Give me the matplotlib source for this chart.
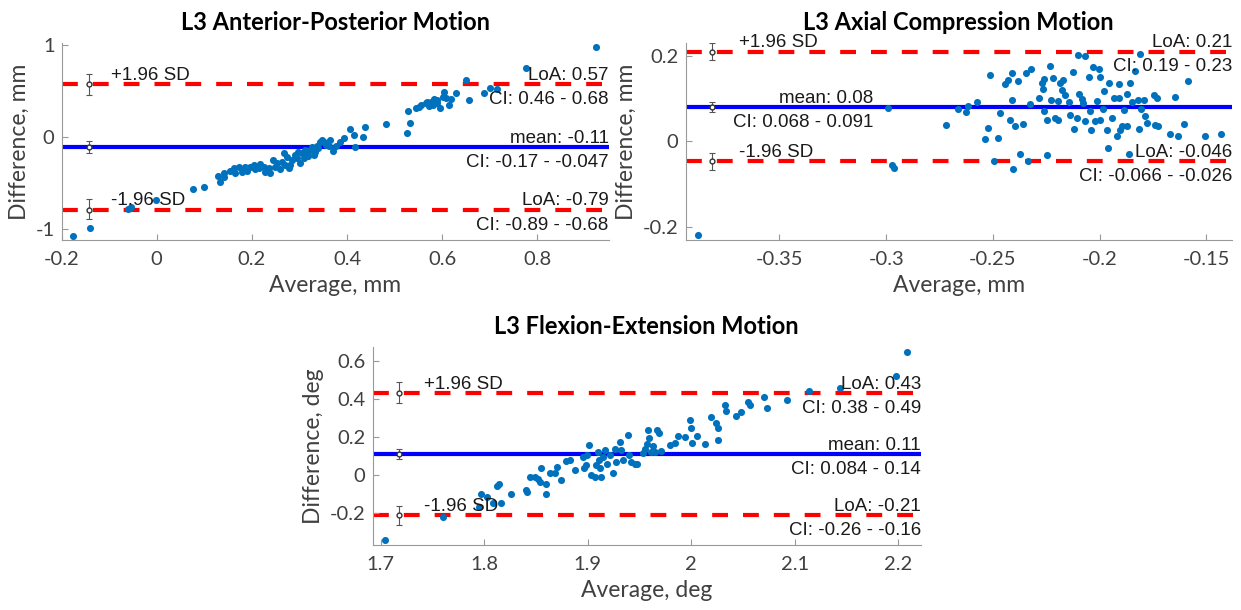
import matplotlib
matplotlib.use("Agg")
import matplotlib.pyplot as plt
import matplotlib.transforms as mtransforms

plt.rcParams['font.family'] = ['Lato', 'DejaVu Sans']
plt.rcParams['axes.unicode_minus'] = False

# --- L3 anterior-posterior (mm) ---
ap_avg = [-0.175, -0.141, -0.061, -0.054, -0.001, 0.076, 0.099, 0.129, 0.134, 0.141,
          0.155, 0.162, 0.172, 0.179, 0.190, 0.204, 0.214, 0.225, 0.235, 0.239,
          0.244, 0.253, 0.260, 0.267, 0.270, 0.277, 0.284, 0.291, 0.298, 0.302,
          0.309, 0.316, 0.323, 0.330, 0.337, 0.343, 0.348, 0.355, 0.364, 0.371,
          0.376, 0.385, 0.393, 0.407, 0.414, 0.416, 0.434, 0.438, 0.481, 0.527,
          0.532, 0.529, 0.545, 0.552, 0.566, 0.573, 0.576, 0.583, 0.590, 0.596,
          0.601, 0.604, 0.614, 0.618, 0.628, 0.650, 0.656, 0.687, 0.701, 0.716,
          0.777, 0.923, 0.141, 0.165, 0.197, 0.218, 0.228, 0.249, 0.263, 0.273,
          0.281, 0.295, 0.305, 0.312, 0.319, 0.326, 0.333, 0.340, 0.351, 0.362,
          0.186, 0.207, 0.556, 0.569, 0.580, 0.589, 0.607]
ap_diff = [-1.076, -0.993, -0.783, -0.757, -0.685, -0.569, -0.540, -0.424, -0.486, -0.395,
           -0.366, -0.341, -0.323, -0.377, -0.366, -0.305, -0.341, -0.323, -0.341, -0.388,
           -0.250, -0.279, -0.352, -0.178, -0.305, -0.341, -0.250, -0.196, -0.160, -0.279,
           -0.232, -0.178, -0.142, -0.196, -0.098, -0.051, -0.033, -0.087, -0.033, -0.152,
           -0.098, -0.051, -0.015, 0.083, 0.022, -0.105, 0.000, 0.112, 0.141, 0.040,
           0.155, 0.282, 0.311, 0.329, 0.373, 0.337, 0.384, 0.409, 0.366, 0.311,
           0.438, 0.492, 0.348, 0.409, 0.474, 0.619, 0.402, 0.474, 0.529, 0.518,
           0.745, 0.975, -0.432, -0.388, -0.323, -0.294, -0.377, -0.323, -0.268, -0.214,
           -0.305, -0.232, -0.178, -0.142, -0.207, -0.105, -0.160, -0.123, -0.051, -0.098,
           -0.323, -0.352, 0.347, 0.384, 0.348, 0.402, 0.420]
# mean, CI, upper LoA, CI, lower LoA, CI
ap_stats = [-0.11, (-0.17, -0.047), 0.57, (0.46, 0.68), -0.79, (-0.89, -0.68)]

# --- L3 axial compression (mm) ---
ac_avg = [-0.388, -0.299, -0.2975, -0.2962,
          -0.2721, -0.2666, -0.2625, -0.2615, -0.2575, -0.2536, -0.2521, -0.2516, -0.2493, -0.2477,
          -0.2469, -0.2443, -0.2430, -0.2411, -0.2411, -0.2419, -0.2407, -0.2396, -0.2385, -0.2372,
          -0.2360, -0.2346, -0.2336, -0.2321, -0.2325, -0.2286, -0.2271, -0.2266, -0.2263, -0.2260,
          -0.2247, -0.2247, -0.2232, -0.2228, -0.2219, -0.2208, -0.2193, -0.2193, -0.2185, -0.2177,
          -0.2174, -0.2161, -0.2146, -0.2138, -0.2125, -0.2119, -0.2106, -0.2103, -0.2099, -0.2083,
          -0.2078, -0.2067, -0.2067, -0.2052, -0.2047, -0.2041, -0.2031, -0.2020, -0.2013, -0.2005,
          -0.2000, -0.1997, -0.1985, -0.1978, -0.1966, -0.1963, -0.1958, -0.1943, -0.1935, -0.1919,
          -0.1911, -0.1911, -0.1903, -0.1895, -0.1884, -0.1872, -0.1872, -0.1864, -0.1860, -0.1849,
          -0.1833, -0.1822, -0.1816, -0.1813, -0.1806, -0.1794, -0.1786, -0.1778, -0.1747, -0.1739,
          -0.1731, -0.1728, -0.1672, -0.1645, -0.1634, -0.1606, -0.1588, -0.1508, -0.1434]
ac_diff = [-0.219, 0.078, -0.054, -0.062,
           0.039, 0.076, 0.069, 0.083, 0.091, 0.006, 0.031, 0.156, -0.045, 0.008,
           0.066, 0.133, 0.143, 0.160, 0.096, 0.049, -0.065, 0.035, 0.142, -0.029,
           0.041, 0.160, -0.045, 0.169, 0.088, 0.101, 0.136, 0.122, 0.070, 0.146,
           -0.031, 0.049, 0.177, 0.096, 0.148, 0.055, 0.094, 0.051, 0.136, 0.121,
           0.144, 0.109, 0.091, 0.062, 0.161, 0.030, 0.055, 0.203, 0.111, 0.099,
           0.090, 0.200, 0.048, 0.150, 0.070, 0.027, 0.173, 0.047, 0.095, 0.169,
           0.150, 0.049, 0.076, 0.117, 0.027, -0.015, 0.136, 0.055, 0.101, 0.013,
           0.134, 0.101, 0.027, 0.035, 0.074, 0.111, 0.035, -0.030, 0.136, 0.091,
           0.164, 0.097, 0.029, 0.205, 0.076, 0.096, 0.060, 0.044, 0.109, 0.039,
           0.101, 0.035, 0.017, 0.103, 0.012, 0.041, 0.142, 0.012, 0.017]
ac_stats = [0.08, (0.068, 0.091), 0.21, (0.19, 0.23), -0.046, (-0.066, -0.026)]

# --- L3 flexion-extension (deg) ---
fe_avg = [1.7045, 1.760, 1.795, 1.7966, 1.8022, 1.8086, 1.812, 1.8143, 1.8165, 1.8262,
          1.8407, 1.8417, 1.8446, 1.8488, 1.852, 1.8546, 1.8536, 1.860, 1.860, 1.8632,
          1.8681, 1.8703, 1.8738, 1.8787, 1.8826, 1.8874, 1.8955, 1.8961, 1.8987, 1.8993,
          1.9013, 1.9026, 1.9068, 1.9077, 1.910, 1.911, 1.9122, 1.9132, 1.9148, 1.9164,
          1.9187, 1.9213, 1.9245, 1.9261, 1.9277, 1.931, 1.9325, 1.9342, 1.9393, 1.940,
          1.9422, 1.9455, 1.9477, 1.9535, 1.9551, 1.9574, 1.9584, 1.9594, 1.961, 1.9626,
          1.9648, 1.9665, 1.969, 1.9703, 1.9794, 1.9842, 1.9874, 1.9939, 1.9987, 1.9994,
          2.0003, 2.0052, 2.0132, 2.0187, 2.0238, 2.0254, 2.0261, 2.0326, 2.0335, 2.0432,
          2.0477, 2.0551, 2.0567, 2.0702, 2.0735, 2.092, 2.114, 2.144, 2.198, 2.208]
fe_diff = [-0.342, -0.219, -0.167, -0.097, -0.114, -0.149, -0.058, -0.044, -0.146, -0.097,
           -0.076, -0.088, -0.009, -0.009, -0.018, 0.040, -0.035, -0.049, -0.100, 0.009,
           0.009, 0.044, -0.026, 0.075, 0.082, 0.026, 0.093, 0.040, 0.053, 0.105,
           0.158, 0.000, -0.009, 0.053, 0.123, 0.079, 0.035, -0.009, 0.096, 0.132,
           0.061, 0.105, 0.009, 0.140, 0.070, 0.175, 0.132, 0.082, 0.210, 0.105,
           0.070, 0.058, 0.058, 0.114, 0.140, 0.163, 0.237, 0.193, 0.123, 0.153,
           0.123, 0.237, 0.219, 0.128, 0.158, 0.167, 0.205, 0.202, 0.289, 0.246,
           0.167, 0.205, 0.162, 0.307, 0.272, 0.246, 0.184, 0.368, 0.339, 0.311,
           0.333, 0.382, 0.368, 0.412, 0.354, 0.395, 0.444, 0.456, 0.521, 0.646]
fe_stats = [0.11, (0.084, 0.14), 0.43, (0.38, 0.49), -0.21, (-0.26, -0.16)]


def fmt(v):
    return '%.2g' % v


def bland_altman(ax, avg, diff, stats, title, unit, bar_x, sd_x, mean_x=None):
    mean, mean_ci, up, up_ci, lo, lo_ci = stats
    ax.axhline(up, color='#ff0000', lw=3, ls=(0, (3.8, 3.6)), zorder=1)
    ax.axhline(lo, color='#ff0000', lw=3, ls=(0, (3.8, 3.6)), zorder=1)
    ax.axhline(mean, color='#0000ff', lw=3, zorder=1)
    for y, ci in [(up, up_ci), (mean, mean_ci), (lo, lo_ci)]:
        ax.errorbar(bar_x, y, yerr=[[y - ci[0]], [ci[1] - y]], fmt='o', ms=3.5,
                    mfc='white', mec='#333333', ecolor='#555555', elinewidth=0.8,
                    capsize=2.5, capthick=0.8, zorder=2)
    ax.scatter(avg, diff, s=26, color='#0072bd', linewidths=0, zorder=3)

    txt = dict(family=['Liberation Sans', 'DejaVu Sans'], fontsize=13.5,
               color='#1a1a1a', zorder=4, textcoords='offset points')
    right = mtransforms.blended_transform_factory(ax.transAxes, ax.transData)
    ax.annotate('+1.96 SD', xy=(sd_x, up), xytext=(0, 3), ha='left', va='baseline', **txt)
    ax.annotate('-1.96 SD', xy=(sd_x, lo), xytext=(0, 3), ha='left', va='baseline', **txt)
    for y, lab, ci in [(up, 'LoA: ' + fmt(up), up_ci), (lo, 'LoA: ' + fmt(lo), lo_ci)]:
        ax.annotate(lab, xy=(1, y), xycoords=right, xytext=(0, 3), ha='right', va='baseline', **txt)
        ax.annotate('CI: %s - %s' % (fmt(ci[0]), fmt(ci[1])), xy=(1, y), xycoords=right,
                    xytext=(0, -5), ha='right', va='top', **txt)
    if mean_x is None:
        mxy, mcoords = (1, mean), right
    else:
        mxy, mcoords = (mean_x, mean), 'data'
    ax.annotate('mean: ' + fmt(mean), xy=mxy, xycoords=mcoords, xytext=(0, 3),
                ha='right', va='baseline', **txt)
    ax.annotate('CI: %s - %s' % (fmt(mean_ci[0]), fmt(mean_ci[1])), xy=mxy, xycoords=mcoords,
                xytext=(0, -5), ha='right', va='top', **txt)

    ax.set_title(title, fontsize=17, fontweight='bold', pad=9, color='black')
    ax.set_xlabel('Average, ' + unit, fontsize=16.5, color='#404040', labelpad=5)
    ax.set_ylabel('Difference, ' + unit, fontsize=16.5, color='#404040', labelpad=4)
    for s in ['top', 'right']:
        ax.spines[s].set_visible(False)
    for s in ['left', 'bottom']:
        ax.spines[s].set_color('#999999')
        ax.spines[s].set_linewidth(0.8)
    ax.tick_params(direction='in', length=4, width=0.8, color='#999999',
                   labelcolor='#404040', labelsize=14.5)
    ax.tick_params(axis='x', pad=8)
    ax.tick_params(axis='y', pad=5)


fig = plt.figure(figsize=(12.41, 6.10), dpi=100)
ax1 = fig.add_axes([0.0496, 0.6066, 0.4409, 0.323])
ax2 = fig.add_axes([0.5524, 0.6066, 0.4404, 0.323])
ax3 = fig.add_axes([0.3002, 0.1066, 0.4420, 0.325])

bland_altman(ax1, ap_avg, ap_diff, ap_stats, 'L3 Anterior-Posterior Motion', 'mm',
             bar_x=-0.142, sd_x=-0.096)
ax1.set_xlim(-0.2, 0.95)
ax1.set_ylim(-1.12, 1.02)
ax1.set_xticks([-0.2, 0, 0.2, 0.4, 0.6, 0.8], ['-0.2', '0', '0.2', '0.4', '0.6', '0.8'])
ax1.set_yticks([-1, 0, 1], ['-1', '0', '1'])

bland_altman(ax2, ac_avg, ac_diff, ac_stats, 'L3 Axial Compression Motion', 'mm',
             bar_x=-0.3816, sd_x=-0.369, mean_x=-0.306)
ax2.set_xlim(-0.394, -0.138)
ax2.set_ylim(-0.23, 0.23)
ax2.set_xticks([-0.35, -0.3, -0.25, -0.2, -0.15], ['-0.35', '-0.3', '-0.25', '-0.2', '-0.15'])
ax2.set_yticks([-0.2, 0, 0.2], ['-0.2', '0', '0.2'])

bland_altman(ax3, fe_avg, fe_diff, fe_stats, 'L3 Flexion-Extension Motion', 'deg',
             bar_x=1.718, sd_x=1.742)
ax3.set_xlim(1.692, 2.222)
ax3.set_ylim(-0.367, 0.675)
ax3.set_xticks([1.7, 1.8, 1.9, 2.0, 2.1, 2.2], ['1.7', '1.8', '1.9', '2', '2.1', '2.2'])
ax3.set_yticks([-0.2, 0, 0.2, 0.4, 0.6], ['-0.2', '0', '0.2', '0.4', '0.6'])

fig.savefig('out.png', dpi=100)
